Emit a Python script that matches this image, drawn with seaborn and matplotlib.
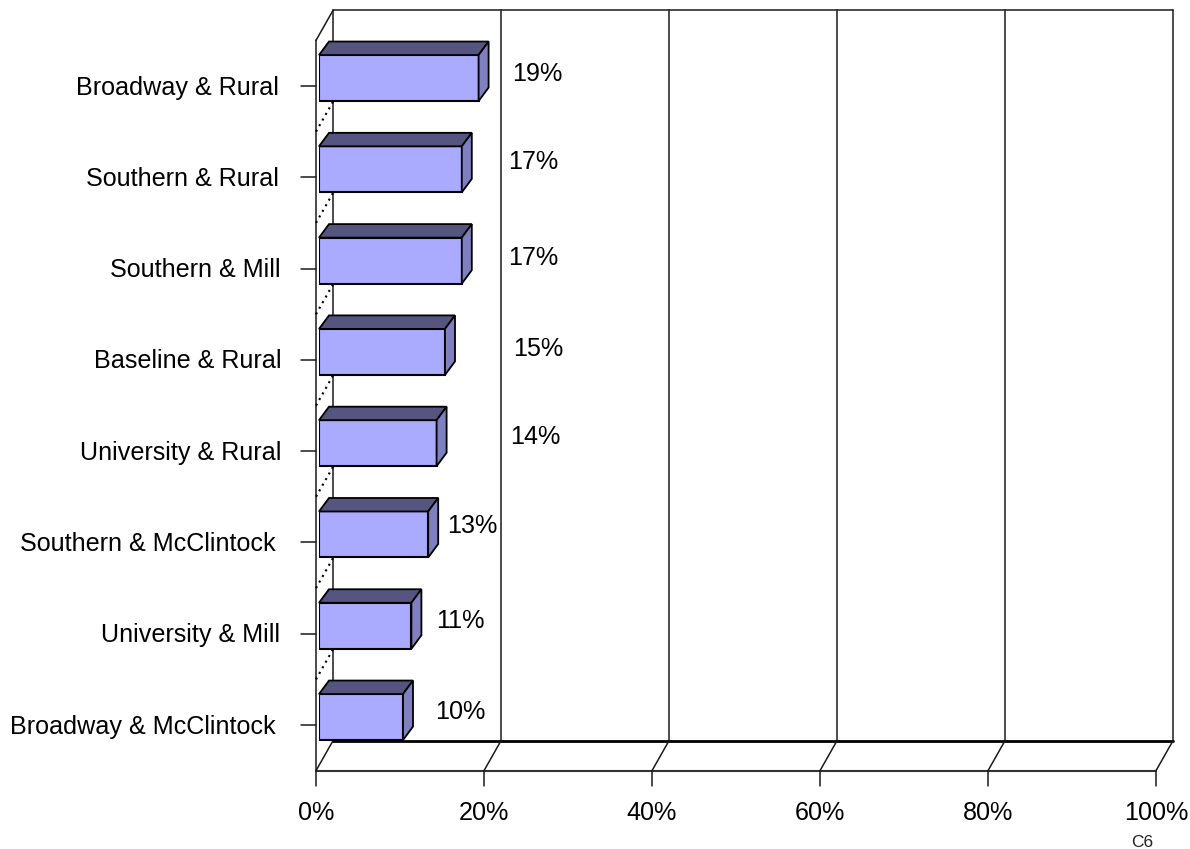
import matplotlib
matplotlib.use('Agg')
import matplotlib.pyplot as plt
from matplotlib.patches import Polygon
from matplotlib.transforms import ScaledTranslation
import seaborn as sns

# values
intersections = ['Broadway & Rural', 'Southern & Rural', 'Southern & Mill', 'Baseline & Rural',
                 'University & Rural', 'Southern & McClintock', 'University & Mill', 'Broadway & McClintock']
shares = [19, 17, 17, 15, 14, 13, 11, 10]
x_ticks = [0, 20, 40, 60, 80, 100]

W, H = 1190, 849
sns.set_style('white')
plt.rcParams['font.family'] = ['Liberation Sans', 'DejaVu Sans']

fig = plt.figure(figsize=(W / 100, H / 100), dpi=100)
ax = fig.add_axes([319 / W, 1 - 762.7 / H, 840 / W, 730.3 / H])

sns.barplot(x=shares, y=intersections, orient='h', color='#AAAAFF', saturation=1, width=0.504,
            edgecolor='black', linewidth=1.5, zorder=4, ax=ax)
ax.set_xlim(0, 100)
ax.set_ylim(7.5, -0.5)
ax.axis('off')


def shifted(dx, dy):
    # axes data moved by some pixels, y goes up
    return ax.transData + ScaledTranslation(dx / 100, dy / 100, fig.dpi_scale_trans)


def pixel_line(xs, ys, **kw):
    style = dict(color='#1a1a1a', lw=1.1, zorder=2)
    style.update(kw)
    ax.add_line(plt.Line2D(xs, ys, transform=None, clip_on=False, **style))


front = shifted(-3, -8)
back = shifted(14, 22)
line = dict(color='#1a1a1a', lw=1.1, clip_on=False, zorder=2)

# back wall and its gridlines
for t in x_ticks:
    ax.plot([t, t], [7.5, -0.5], transform=back, **line)
ax.plot([0, 100], [-0.5, -0.5], transform=back, **line)
ax.plot([0, 100], [7.5, 7.5], transform=back, color='black', lw=2, clip_on=False, zorder=2)

# front edges of the box
ax.plot([0, 0], [-0.5, 7.5], transform=front, **line)
ax.plot([0, 100], [7.5, 7.5], transform=front, color='#333333', lw=1.5, clip_on=False, zorder=2)

# diagonals joining both planes
corner_x, corner_y = ax.transData.transform((0, -0.5))
pixel_line([corner_x - 3, corner_x + 14], [corner_y - 8, corner_y + 22])
for t in x_ticks:
    px, py = ax.transData.transform((t, 7.5))
    pixel_line([px - 3, px + 14], [py - 8, py + 22])
    pixel_line([px - 3, px - 3], [py - 8, py - 23])
    ax.annotate(f'{t}%', (t, 8.0), xycoords=front, xytext=(0, 3), textcoords='offset pixels',
                ha='center', va='center', fontsize=18.1, color='black', annotation_clip=False)

# dotted category separators on the side wall
for k in range(1, 8):
    px, py = ax.transData.transform((0, k - 0.5))
    pixel_line([px - 3, px + 14], [py - 8, py + 22], color='black', lw=1.5, ls=(0, (1, 2.1)))

# category ticks and labels, the right edge wobbles a bit in the original
label_right = [279, 279, 280, 281, 281, 276, 280, 276]
for k, name in enumerate(intersections):
    px, py = ax.transData.transform((0, k))
    pixel_line([px - 18, px - 3], [py - 8, py - 8])
    ax.annotate(name, (0, k), xycoords=front, xytext=(label_right[k] - 316, -1.5),
                textcoords='offset pixels', ha='right', va='center', fontsize=18.1, color='black',
                annotation_clip=False)

# 3d top and side of each bar
depth_x, depth_y = 10, 13.5
for bar in list(ax.patches):
    x0, y0 = ax.transData.transform((bar.get_x(), bar.get_y()))
    x1, y1 = ax.transData.transform((bar.get_x() + bar.get_width(), bar.get_y() + bar.get_height()))
    top = [(x0, y0), (x1, y0), (x1 + depth_x, y0 + depth_y), (x0 + depth_x, y0 + depth_y)]
    side = [(x1, y0), (x1 + depth_x, y0 + depth_y), (x1 + depth_x, y1 + depth_y), (x1, y1)]
    ax.add_patch(Polygon(top, closed=True, transform=None, facecolor='#555580', clip_on=False,
                         edgecolor='black', lw=1.3, zorder=4))
    ax.add_patch(Polygon(side, closed=True, transform=None, facecolor='#8080C0', clip_on=False,
                         edgecolor='black', lw=1.3, zorder=4))

# value labels, placed by hand in the original
label_dx = [59, 71, 71, 93, 99, 44, 49, 57]
label_dy = [4, 7, 3, 3, 6, 8, 5, 5]
for k, v in enumerate(shares):
    ax.annotate(f'{v}%', (v, k), xytext=(label_dx[k], label_dy[k]), textcoords='offset pixels',
                ha='center', va='center', fontsize=18.1, color='black', zorder=5)

fig.text(1142 / W, 1 - 847 / H, 'C6', ha='center', va='baseline', fontsize=12.5, color='#222222')

fig.savefig('out.png', dpi=100)
